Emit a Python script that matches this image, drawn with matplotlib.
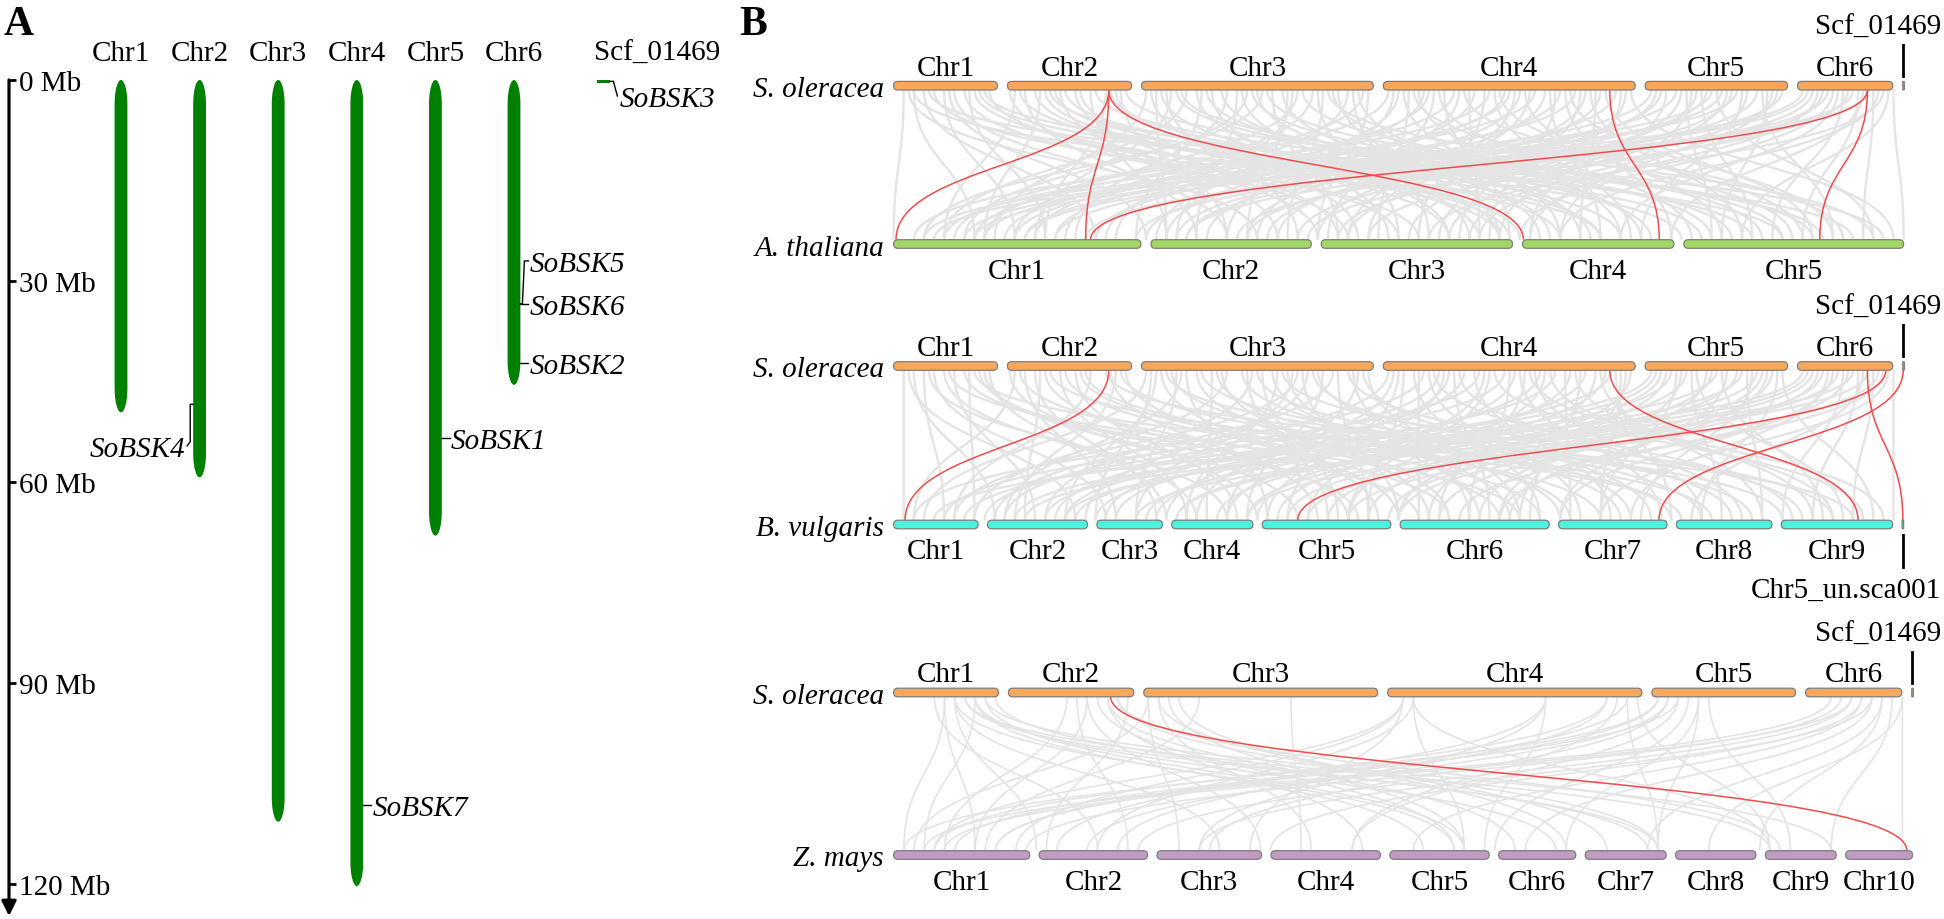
import numpy as np
import matplotlib
matplotlib.use("Agg")
import matplotlib.pyplot as plt
from matplotlib.path import Path
from matplotlib.patches import PathPatch, FancyBboxPatch, Polygon, Rectangle

plt.rcParams['font.family'] = ['Liberation Serif', 'DejaVu Serif']

# ------------------------------------------------------------------ data
SO_CHR = ["Chr1", "Chr2", "Chr3", "Chr4", "Chr5", "Chr6", "Scf_01469"]
SO_LEN = [49.6, 59.3, 110.7, 120.3, 68.0, 45.5, 0.4]          # Mb
AT_CHR = ["Chr1", "Chr2", "Chr3", "Chr4", "Chr5"]
AT_LEN = [30.4, 19.7, 23.5, 18.6, 27.0]
BV_CHR = ["Chr1", "Chr2", "Chr3", "Chr4", "Chr5", "Chr6", "Chr7", "Chr8", "Chr9",
          "Chr5_un.sca001"]
BV_LEN = [54.5, 64.5, 42.2, 52.3, 82.9, 96.1, 69.9, 61.6, 71.8, 1.0]
ZM_CHR = ["Chr1", "Chr2", "Chr3", "Chr4", "Chr5", "Chr6", "Chr7", "Chr8", "Chr9", "Chr10"]
ZM_LEN = [307.0, 244.4, 235.7, 246.9, 223.9, 174.0, 182.4, 181.1, 159.8, 150.9]

GENE_NAMES = ["SoBSK1", "SoBSK2", "SoBSK3", "SoBSK4", "SoBSK5", "SoBSK6", "SoBSK7"]
GENE_CHR = [4, 5, 6, 1, 5, 5, 3]          # index into SO_CHR
GENE_MB = [53.4, 42.2, 0.2, 48.4, 33.4, 33.4, 108.2]

SCALE_TICKS = [0, 30, 60, 90, 120]

# red (BSK) links: (S. oleracea chr, Mb, other chr, Mb)
RED_AT = [(1, 48.4, 0, 0.3), (1, 48.4, 0, 23.6), (1, 48.4, 3, 0.1),
          (3, 108.2, 3, 16.8), (5, 33.4, 0, 24.2), (5, 33.4, 4, 16.7)]
RED_BV = [(1, 48.4, 0, 7.4), (3, 108.2, 8, 49.5), (5, 42.2, 4, 22.9),
          (6, 0.2, 6, 64.7), (5, 33.4, 9, 0.5)]
RED_ZM = [(1, 48.4, 9, 138.0)]

# background collinear links (fraction along top genome, fraction along bottom genome)
GRAY_AT = [(0.01, 0.00), (0.02, 0.08), (0.03, 0.20), (0.05, 0.12), (0.06, 0.33), (0.07, 0.45),
           (0.08, 0.60), (0.09, 0.95), (0.04, 0.52), (0.02, 0.70), (0.12, 0.05), (0.13, 0.30),
           (0.14, 0.61), (0.15, 0.62), (0.17, 0.80), (0.18, 0.44), (0.20, 0.92), (0.21, 0.15),
           (0.22, 0.58), (0.23, 0.98), (0.16, 0.70), (0.25, 0.10), (0.26, 0.27), (0.27, 0.40),
           (0.29, 0.05), (0.30, 0.55), (0.31, 0.75), (0.33, 0.18), (0.34, 0.30), (0.36, 0.65),
           (0.37, 0.88), (0.39, 0.35), (0.40, 0.12), (0.42, 0.50), (0.43, 0.97), (0.45, 0.22),
           (0.46, 0.68), (0.47, 0.42), (0.49, 0.06), (0.50, 0.26), (0.51, 0.48), (0.53, 0.14),
           (0.54, 0.79), (0.56, 0.36), (0.57, 0.58), (0.59, 0.02), (0.60, 0.90), (0.62, 0.31),
           (0.63, 0.45), (0.65, 0.70), (0.66, 0.20), (0.68, 0.56), (0.69, 0.84), (0.70, 0.38),
           (0.72, 0.63), (0.73, 0.99), (0.75, 0.09), (0.76, 0.28), (0.78, 0.51), (0.79, 0.66),
           (0.80, 0.85), (0.82, 0.16), (0.83, 0.40), (0.84, 0.74), (0.86, 0.93), (0.87, 0.57),
           (0.88, 0.24), (0.90, 0.04), (0.91, 0.34), (0.92, 0.47), (0.93, 0.62), (0.94, 0.87),
           (0.95, 0.19), (0.96, 0.77), (0.97, 0.96), (0.98, 0.53), (0.99, 1.00), (0.28, 0.83),
           (0.35, 0.07), (0.52, 0.72), (0.61, 0.11), (0.67, 0.93), (0.81, 0.03), (0.44, 0.60),
           (0.015, 0.36), (0.035, 0.88), (0.055, 0.25), (0.075, 0.15), (0.085, 0.78), (0.095, 0.50),
           (0.115, 0.42), (0.125, 0.66), (0.145, 0.09), (0.155, 0.85), (0.165, 0.38), (0.185, 0.55),
           (0.195, 0.27), (0.215, 0.72), (0.225, 0.33), (0.255, 0.46), (0.265, 0.60), (0.275, 0.14),
           (0.285, 0.91), (0.305, 0.24), (0.315, 0.49), (0.325, 0.69), (0.345, 0.57), (0.355, 0.81),
           (0.365, 0.03), (0.375, 0.44), (0.385, 0.64), (0.395, 0.28), (0.405, 0.86), (0.415, 0.17),
           (0.425, 0.39), (0.435, 0.74), (0.455, 0.53), (0.465, 0.09), (0.495, 0.33), (0.505, 0.66),
           (0.515, 0.89), (0.525, 0.21), (0.535, 0.43), (0.545, 0.61), (0.555, 0.08), (0.565, 0.94),
           (0.575, 0.27), (0.585, 0.52), (0.595, 0.73), (0.605, 0.16), (0.615, 0.47), (0.625, 0.82),
           (0.635, 0.05), (0.645, 0.35), (0.655, 0.59), (0.665, 0.77), (0.675, 0.12), (0.685, 0.42),
           (0.695, 0.68), (0.705, 0.91), (0.715, 0.25), (0.725, 0.54), (0.755, 0.37), (0.765, 0.60),
           (0.775, 0.13), (0.785, 0.81), (0.795, 0.45), (0.805, 0.29), (0.815, 0.97), (0.825, 0.55),
           (0.835, 0.07), (0.845, 0.63), (0.855, 0.35), (0.865, 0.82), (0.875, 0.44), (0.905, 0.13),
           (0.915, 0.58), (0.925, 0.29), (0.935, 0.72), (0.945, 0.41), (0.955, 0.90), (0.965, 0.08),
           (0.975, 0.66), (0.985, 0.84)]
GRAY_BV = [(0.01, 0.01), (0.02, 0.10), (0.03, 0.05), (0.04, 0.21), (0.05, 0.30), (0.06, 0.14),
           (0.07, 0.52), (0.08, 0.78), (0.09, 0.40), (0.12, 0.02), (0.13, 0.22), (0.14, 0.26),
           (0.15, 0.45), (0.17, 0.60), (0.18, 0.34), (0.19, 0.70), (0.21, 0.95), (0.22, 0.12),
           (0.23, 0.50), (0.25, 0.03), (0.26, 0.17), (0.28, 0.24), (0.29, 0.37), (0.30, 0.55),
           (0.32, 0.66), (0.33, 0.08), (0.35, 0.43), (0.36, 0.80), (0.38, 0.29), (0.39, 0.58),
           (0.41, 0.19), (0.42, 0.73), (0.44, 0.47), (0.45, 0.90), (0.46, 0.33), (0.47, 0.62),
           (0.49, 0.11), (0.50, 0.39), (0.52, 0.52), (0.53, 0.68), (0.55, 0.27), (0.56, 0.84),
           (0.58, 0.05), (0.59, 0.45), (0.61, 0.57), (0.62, 0.76), (0.64, 0.22), (0.65, 0.93),
           (0.67, 0.36), (0.68, 0.63), (0.70, 0.86), (0.71, 0.15), (0.72, 0.70), (0.73, 0.50),
           (0.75, 0.07), (0.76, 0.32), (0.78, 0.60), (0.79, 0.82), (0.81, 0.43), (0.82, 0.92),
           (0.84, 0.18), (0.85, 0.74), (0.87, 0.54), (0.88, 0.97), (0.90, 0.04), (0.91, 0.28),
           (0.92, 0.41), (0.93, 0.66), (0.94, 0.88), (0.95, 0.13), (0.96, 0.79), (0.97, 0.95),
           (0.98, 0.56), (0.99, 0.99), (0.27, 0.88), (0.40, 0.06), (0.54, 0.16), (0.63, 0.98),
           (0.77, 0.25), (0.86, 0.49),
           (0.015, 0.18), (0.035, 0.33), (0.055, 0.62), (0.075, 0.08), (0.085, 0.46), (0.095, 0.27),
           (0.115, 0.36), (0.125, 0.55), (0.145, 0.13), (0.155, 0.81), (0.165, 0.29), (0.185, 0.64),
           (0.195, 0.06), (0.215, 0.42), (0.225, 0.77), (0.255, 0.20), (0.265, 0.48), (0.275, 0.67),
           (0.285, 0.11), (0.305, 0.85), (0.315, 0.31), (0.325, 0.53), (0.345, 0.72), (0.355, 0.15),
           (0.365, 0.44), (0.375, 0.61), (0.385, 0.93), (0.395, 0.24), (0.405, 0.50), (0.415, 0.83),
           (0.425, 0.35), (0.435, 0.10), (0.455, 0.57), (0.465, 0.75), (0.495, 0.30), (0.505, 0.47),
           (0.515, 0.64), (0.525, 0.02), (0.535, 0.89), (0.545, 0.37), (0.555, 0.59), (0.565, 0.21),
           (0.575, 0.71), (0.585, 0.41), (0.595, 0.96), (0.605, 0.09), (0.615, 0.33), (0.625, 0.54),
           (0.635, 0.80), (0.645, 0.45), (0.655, 0.17), (0.665, 0.67), (0.675, 0.91), (0.685, 0.26),
           (0.695, 0.53), (0.705, 0.38), (0.715, 0.77), (0.725, 0.62), (0.755, 0.20), (0.765, 0.47),
           (0.775, 0.70), (0.785, 0.35), (0.795, 0.94), (0.805, 0.58), (0.815, 0.12), (0.825, 0.66),
           (0.835, 0.39), (0.845, 0.86), (0.855, 0.28), (0.865, 0.61), (0.875, 0.80), (0.905, 0.17),
           (0.915, 0.50), (0.925, 0.73), (0.935, 0.35), (0.945, 0.60), (0.955, 0.91), (0.965, 0.24),
           (0.975, 0.45), (0.985, 0.70)]
GRAY_ZM = [(0.05, 0.01), (0.05, 0.08), (0.06, 0.14), (0.06, 0.55), (0.07, 0.75), (0.07, 0.86),
           (0.08, 0.03), (0.08, 0.52), (0.09, 0.56), (0.09, 0.92), (0.10, 0.74), (0.04, 0.20),
           (0.17, 0.05), (0.18, 0.23), (0.19, 0.36), (0.20, 0.55), (0.21, 0.61), (0.22, 0.75),
           (0.22, 0.87), (0.23, 0.15), (0.25, 0.02), (0.25, 0.28), (0.26, 0.41), (0.27, 0.56),
           (0.28, 0.66), (0.30, 0.09), (0.39, 0.40), (0.50, 0.04), (0.50, 0.12), (0.50, 0.35),
           (0.51, 0.56), (0.51, 0.86), (0.64, 0.16), (0.64, 0.30), (0.64, 0.58), (0.70, 0.04),
           (0.70, 0.22), (0.71, 0.45), (0.72, 0.75), (0.73, 0.86), (0.75, 0.01), (0.75, 0.10),
           (0.76, 0.19), (0.76, 0.31), (0.77, 0.45), (0.78, 0.59), (0.79, 0.66), (0.79, 0.75),
           (0.80, 0.88), (0.92, 0.03), (0.93, 0.13), (0.94, 0.24), (0.95, 0.37), (0.95, 0.51),
           (0.96, 0.62), (0.97, 0.74), (0.97, 0.85), (0.98, 0.92), (0.99, 0.99), (0.99, 0.80),
           (0.06, 0.32), (0.08, 0.65), (0.19, 0.08), (0.21, 0.46), (0.26, 0.70), (0.51, 0.20),
           (0.72, 0.10), (0.77, 0.06), (0.94, 0.05), (0.96, 0.30)]

# ------------------------------------------------------------------ styles
FS = 21
GREEN = "#008000"
C_SO, C_AT, C_BV, C_ZM = "#F8A85C", "#A2D764", "#4CF4E0", "#C29BC2"
GRAY, RED = "#e4e4e4", "#ee4c4c"

W, H = 1944, 920
fig = plt.figure(figsize=(W / 100, H / 100), dpi=100)

# pixel-space axes for panel B and panel letters
axB = fig.add_axes([0, 0, 1, 1])
axB.set_xlim(0, W)
axB.set_ylim(H, 0)
axB.axis("off")

# ------------------------------------------------------------------ panel A (y in Mb)
PX_PER_MB = 6.7
Y0 = 81
axA = fig.add_axes([0, 0, 1, 1])
axA.set_xlim(0, W)
axA.set_ylim((H - Y0) / PX_PER_MB, -Y0 / PX_PER_MB)
axA.axis("off")
axA.patch.set_alpha(0)


def mb(px_off):
    return px_off / PX_PER_MB


chr_x = [121 + 78.6 * i for i in range(6)] + [603.5]
HW = 6.4

for i, (name, L) in enumerate(zip(SO_CHR, SO_LEN)):
    cx = chr_x[i]
    if L > 5:
        r = 3.6
        t = np.linspace(np.pi, 0, 60)
        top = np.c_[cx + HW * np.cos(t), r - r * np.sin(t)]
        t2 = np.linspace(0, np.pi, 60)
        bot = np.c_[cx + HW * np.cos(t2), L - r + r * np.sin(t2)]
        axA.add_patch(Polygon(np.vstack([top, bot]), closed=True, fc=GREEN, ec="none"))
        axA.text(cx, mb(-20), name, ha="center", va="baseline", fontsize=FS)
    else:
        axA.add_patch(Rectangle((cx - HW, 0), 2 * HW, L, fc=GREEN, ec="none"))
        axA.text(cx - HW - 3, mb(-20), name, ha="left", va="baseline", fontsize=FS)

# scale bar
axA.annotate("", xy=(9, mb(917 - Y0)), xytext=(9, 0),
             arrowprops=dict(arrowstyle="-|>", lw=2.3, color="black",
                             mutation_scale=22, shrinkA=0, shrinkB=0))
for t in SCALE_TICKS:
    axA.plot([8, 16], [t, t], color="black", lw=2.0, solid_capstyle="butt")
    axA.text(19, t + mb(10), f"{t} Mb", ha="left", va="baseline", fontsize=FS)

# gene labels (label offsets are layout)
label_shift = {"SoBSK5": -6.4, "SoBSK4": 6.2, "SoBSK3": 2.2}
for name, ci, pos in zip(GENE_NAMES, GENE_CHR, GENE_MB):
    cx = chr_x[ci]
    ly = pos + label_shift.get(name, 0.0)
    if name == "SoBSK4":          # left side
        xe = cx - HW
        axA.plot([xe, xe - 3, xe - 3, xe - 6], [pos, pos, ly - 0.6, ly], color="black", lw=1)
        axA.text(xe - 8, ly + mb(10), name, ha="right", va="baseline",
                 fontsize=FS, style="italic")
    elif name == "SoBSK3":
        xe = cx + HW
        axA.plot([xe, xe + 3.5, xe + 7.5], [pos, pos, ly], color="black", lw=1)
        axA.text(xe + 10, ly + mb(10), name, ha="left", va="baseline",
                 fontsize=FS, style="italic")
    else:
        xe = cx + HW
        if ly != pos:
            axA.plot([xe, xe + 2, xe + 4, xe + 8], [pos, pos, ly, ly], color="black", lw=1)
        else:
            axA.plot([xe, xe + 8], [pos, pos], color="black", lw=1)
        axA.text(xe + 9, ly + mb(10), name, ha="left", va="baseline",
                 fontsize=FS, style="italic")

# ------------------------------------------------------------------ panel B
X0 = 893.6
BAR_H = 8.6


def layout(lengths, width, gap):
    scale = (width - gap * (len(lengths) - 1)) / sum(lengths)
    starts, x = [], X0
    for L in lengths:
        starts.append(x)
        x += L * scale + gap
    return starts, scale


def draw_bars(starts, scale, lengths, yc, color):
    for s, L in zip(starts, lengths):
        w = max(L * scale, 1.6)
        rs = min(BAR_H / 2, w / 2)
        axB.add_patch(FancyBboxPatch((s, yc - BAR_H / 2), w, BAR_H,
                                     boxstyle=f"round,pad=0,rounding_size={rs}",
                                     fc=color, ec="#7d7d7d", lw=0.9, zorder=5))


def link(xa, ya, xb, yb, color, lw, z):
    ym = (ya + yb) / 2
    p = Path([(xa, ya), (xa, ym), (xb, ym), (xb, yb)],
             [Path.MOVETO, Path.CURVE4, Path.CURVE4, Path.CURVE4])
    axB.add_patch(PathPatch(p, fc="none", ec=color, lw=lw, zorder=z))


rows = [
    dict(yt=86.7, yb=245.0, width=1010, gap_t=10, other=(AT_CHR, AT_LEN, C_AT, 10),
         sp="A. thaliana", red=RED_AT, gray=GRAY_AT, glw=1.7, un=False),
    dict(yt=367.0, yb=525.5, width=1010, gap_t=10, other=(BV_CHR, BV_LEN, C_BV, 9.4),
         sp="B. vulgaris", red=RED_BV, gray=GRAY_BV, glw=1.7, un=True),
    dict(yt=693.5, yb=856.0, width=1019, gap_t=10, other=(ZM_CHR, ZM_LEN, C_ZM, 9.5),
         sp="Z. mays", red=RED_ZM, gray=GRAY_ZM, glw=1.2, un=False),
]

for row in rows:
    yt, yb, width = row["yt"], row["yb"], row["width"]
    o_chr, o_len, o_col, o_gap = row["other"]
    s_top, sc_top = layout(SO_LEN, width, row["gap_t"])
    s_bot, sc_bot = layout(o_len, width, o_gap)

    # gray background links
    for ft, fb in row["gray"]:
        link(X0 + ft * width, yt + BAR_H / 2, X0 + fb * width, yb - BAR_H / 2,
             GRAY, row["glw"], 1)
    # red BSK links
    for ct, pt, cb, pb in row["red"]:
        link(s_top[ct] + pt * sc_top, yt + BAR_H / 2, s_bot[cb] + pb * sc_bot,
             yb - BAR_H / 2, RED, 1.1, 3)

    draw_bars(s_top, sc_top, SO_LEN, yt, C_SO)
    draw_bars(s_bot, sc_bot, o_len, yb, o_col)

    # top labels
    for name, s, L in zip(SO_CHR[:-1], s_top[:-1], SO_LEN[:-1]):
        axB.text(s + L * sc_top / 2, yt - 11, name, ha="center", va="baseline", fontsize=FS)
    xs = s_top[-1] + SO_LEN[-1] * sc_top / 2
    axB.plot([xs, xs], [yt - 41, yt - 10], color="black", lw=2.0)
    axB.text(W - 3, yt - 52, SO_CHR[-1], ha="right", va="baseline", fontsize=FS)

    # bottom labels
    names = o_chr[:-1] if row["un"] else o_chr
    for name, s, L in zip(names, s_bot, o_len):
        axB.text(s + L * sc_bot / 2, yb + 34, name, ha="center", va="baseline", fontsize=FS)
    if row["un"]:
        xs = s_bot[-1] + o_len[-1] * sc_bot / 2
        axB.plot([xs, xs], [yb + 10, yb + 42], color="black", lw=2.0)
        axB.text(W - 3, yb + 72.5, o_chr[-1], ha="right", va="baseline", fontsize=FS)

    # species labels
    axB.text(884, yt + 10.5, "S. oleracea", ha="right", va="baseline",
             fontsize=FS, style="italic")
    axB.text(884, yb + 10.5, row["sp"], ha="right", va="baseline",
             fontsize=FS, style="italic")

# panel letters
axB.text(4, 35, "A", ha="left", va="baseline", fontsize=30, fontweight="bold")
axB.text(739, 35, "B", ha="left", va="baseline", fontsize=30, fontweight="bold")

fig.savefig("out.png", dpi=100)
